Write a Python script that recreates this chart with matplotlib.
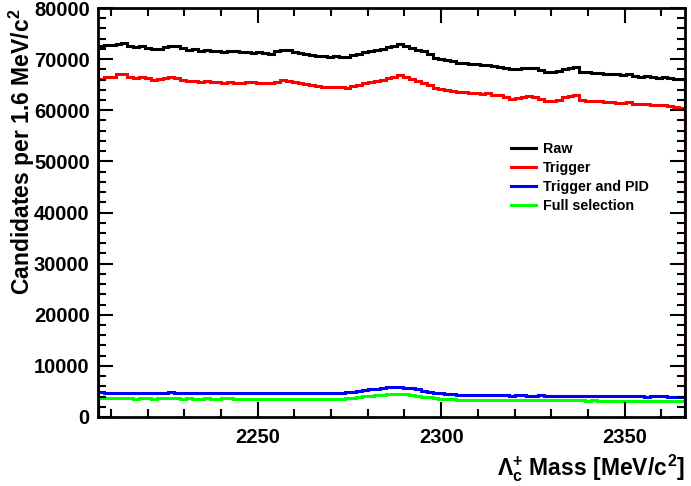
import numpy as np
import matplotlib
matplotlib.use('Agg')
import matplotlib.pyplot as plt
from matplotlib.ticker import MultipleLocator

plt.rcParams['font.family'] = 'Liberation Sans'
plt.rcParams['font.weight'] = 'bold'
plt.rcParams['mathtext.fontset'] = 'custom'
plt.rcParams['mathtext.rm'] = 'Liberation Sans:bold'
plt.rcParams['mathtext.it'] = 'Liberation Sans:bold'
plt.rcParams['mathtext.bf'] = 'Liberation Sans:bold'

# histogram range: 100 bins of 1.6 MeV around the Lambda_c mass
x_lo, x_hi, nbins = 2206.46, 2366.46, 100

# bin contents in thousands
raw = [72.6, 72.7, 72.8, 73.0, 73.1, 72.6, 72.4, 72.5, 72.2, 71.9,
       72.0, 72.3, 72.6, 72.5, 72.1, 71.8, 71.9, 71.6, 71.7, 71.5,
       71.6, 71.4, 71.5, 71.5, 71.3, 71.3, 71.2, 71.4, 71.2, 71.1,
       71.5, 71.8, 71.7, 71.3, 71.2, 71.0, 70.9, 70.7, 70.6, 70.5,
       70.6, 70.4, 70.4, 70.8, 71.0, 71.3, 71.5, 71.8, 72.0, 72.3,
       72.6, 72.9, 72.6, 72.2, 71.8, 71.5, 71.0, 70.3, 70.0, 69.8,
       69.6, 69.3, 69.2, 69.0, 69.1, 68.8, 68.9, 68.6, 68.5, 68.3,
       68.0, 68.1, 68.3, 68.3, 68.2, 67.8, 67.4, 67.4, 67.6, 68.0,
       68.3, 68.5, 67.5, 67.4, 67.3, 67.3, 67.1, 67.0, 67.0, 66.9,
       67.0, 66.7, 66.6, 66.7, 66.5, 66.3, 66.5, 66.4, 66.2, 66.1]
trigger = [66.1, 66.5, 66.6, 67.0, 67.1, 66.6, 66.4, 66.5, 66.3, 66.0,
           66.1, 66.3, 66.5, 66.4, 66.0, 65.7, 65.8, 65.6, 65.7, 65.5,
           65.6, 65.4, 65.5, 65.4, 65.3, 65.6, 65.5, 65.4, 65.3, 65.4,
           65.6, 65.9, 65.8, 65.5, 65.4, 65.2, 65.0, 64.8, 64.6, 64.5,
           64.6, 64.5, 64.4, 64.8, 65.0, 65.3, 65.5, 65.8, 66.0, 66.3,
           66.6, 66.9, 66.6, 66.2, 65.8, 65.4, 64.9, 64.3, 64.1, 63.9,
           63.8, 63.6, 63.5, 63.3, 63.4, 63.2, 63.3, 63.0, 62.9, 62.6,
           62.3, 62.4, 62.6, 62.7, 62.6, 62.2, 61.9, 61.9, 62.1, 62.5,
           62.8, 62.9, 62.0, 61.9, 61.8, 61.8, 61.6, 61.6, 61.5, 61.4,
           61.6, 61.3, 61.2, 61.3, 61.1, 61.0, 61.1, 60.9, 60.7, 60.5]
trig_pid = [4.80, 4.75, 4.78, 4.70, 4.72, 4.75, 4.68, 4.70, 4.75, 4.70,
            4.72, 4.76, 4.80, 4.74, 4.70, 4.72, 4.67, 4.70, 4.72, 4.70,
            4.68, 4.72, 4.75, 4.70, 4.67, 4.65, 4.70, 4.68, 4.65, 4.67,
            4.70, 4.65, 4.63, 4.67, 4.65, 4.63, 4.67, 4.65, 4.63, 4.65,
            4.67, 4.70, 4.80, 4.92, 5.05, 5.20, 5.38, 5.55, 5.70, 5.80,
            5.85, 5.82, 5.75, 5.60, 5.40, 5.15, 4.95, 4.75, 4.60, 4.50,
            4.42, 4.36, 4.32, 4.28, 4.30, 4.26, 4.22, 4.27, 4.25, 4.22,
            4.20, 4.25, 4.22, 4.18, 4.20, 4.22, 4.18, 4.15, 4.19, 4.17,
            4.12, 4.15, 4.12, 4.10, 4.12, 4.08, 4.11, 4.08, 4.06, 4.10,
            4.06, 4.03, 4.08, 4.00, 4.03, 4.06, 4.01, 3.98, 4.00, 3.96]
full_sel = [3.70, 3.67, 3.65, 3.63, 3.65, 3.67, 3.60, 3.65, 3.63, 3.60,
            3.63, 3.67, 3.70, 3.65, 3.61, 3.63, 3.59, 3.61, 3.63, 3.61,
            3.60, 3.63, 3.65, 3.61, 3.59, 3.57, 3.60, 3.59, 3.57, 3.59,
            3.60, 3.57, 3.55, 3.58, 3.57, 3.55, 3.57, 3.55, 3.55, 3.57,
            3.59, 3.61, 3.70, 3.80, 3.90, 4.02, 4.14, 4.28, 4.38, 4.45,
            4.48, 4.46, 4.40, 4.30, 4.14, 3.97, 3.82, 3.67, 3.57, 3.50,
            3.44, 3.42, 3.40, 3.37, 3.39, 3.36, 3.34, 3.37, 3.35, 3.32,
            3.30, 3.34, 3.32, 3.29, 3.30, 3.32, 3.28, 3.26, 3.29, 3.27,
            3.24, 3.26, 3.24, 3.22, 3.24, 3.20, 3.22, 3.20, 3.18, 3.21,
            3.18, 3.16, 3.19, 3.14, 3.16, 3.18, 3.14, 3.12, 3.14, 3.10]

labels = ['Raw', 'Trigger', 'Trigger and PID', 'Full selection']
colors = ['black', '#ff0000', '#0000ff', '#00ff00']

edges = np.linspace(x_lo, x_hi, nbins + 1)

fig = plt.figure(figsize=(6.91, 4.86), dpi=100)
ax = fig.add_axes([0.1418, 0.142, 0.8495, 0.8415])

series = [raw, trigger, trig_pid, full_sel]
order = [0, 1, 3, 2]  # blue drawn over green at the left edge
handles = {}
for k in order:
    h = ax.stairs(np.array(series[k]) * 1000, edges, baseline=0,
                  color=colors[k], lw=2.2, label=labels[k])
    handles[k] = h

ax.set_xlim(x_lo, x_hi)
ax.set_ylim(0, 80000)
ax.xaxis.set_major_locator(MultipleLocator(50))
ax.xaxis.set_minor_locator(MultipleLocator(10))
ax.yaxis.set_major_locator(MultipleLocator(10000))
ax.yaxis.set_minor_locator(MultipleLocator(2000))
ax.tick_params(which='both', direction='in', top=True, right=True,
               labelsize=14.5, width=1.5)
ax.tick_params(which='major', length=11)
ax.tick_params(which='minor', length=6)
ax.tick_params(axis='x', pad=8)
ax.tick_params(axis='y', pad=6)
for lab in ax.get_xticklabels() + ax.get_yticklabels():
    lab.set_fontweight('bold')
for sp in ax.spines.values():
    sp.set_linewidth(2)

ax.set_xlabel(r'$\Lambda_{c}^{+}$ Mass [MeV/$c^{2}$]', fontsize=16.5,
              fontweight='bold', loc='right')
ax.set_ylabel(r'Candidates per 1.6 MeV/$c^{2}$', fontsize=16.5,
              fontweight='bold', loc='top')
ax.yaxis.set_label_coords(-0.1035, 1.0)

leg = ax.legend([handles[k] for k in range(4)], labels, loc='upper left',
                bbox_to_anchor=(0.682, 0.705), frameon=False,
                handlelength=1.7, handletextpad=0.5, labelspacing=0.36,
                prop={'weight': 'bold', 'size': 10.3})
for h in leg.legend_handles:
    h.set_linewidth(2.2)

fig.savefig('out.png', dpi=100)
